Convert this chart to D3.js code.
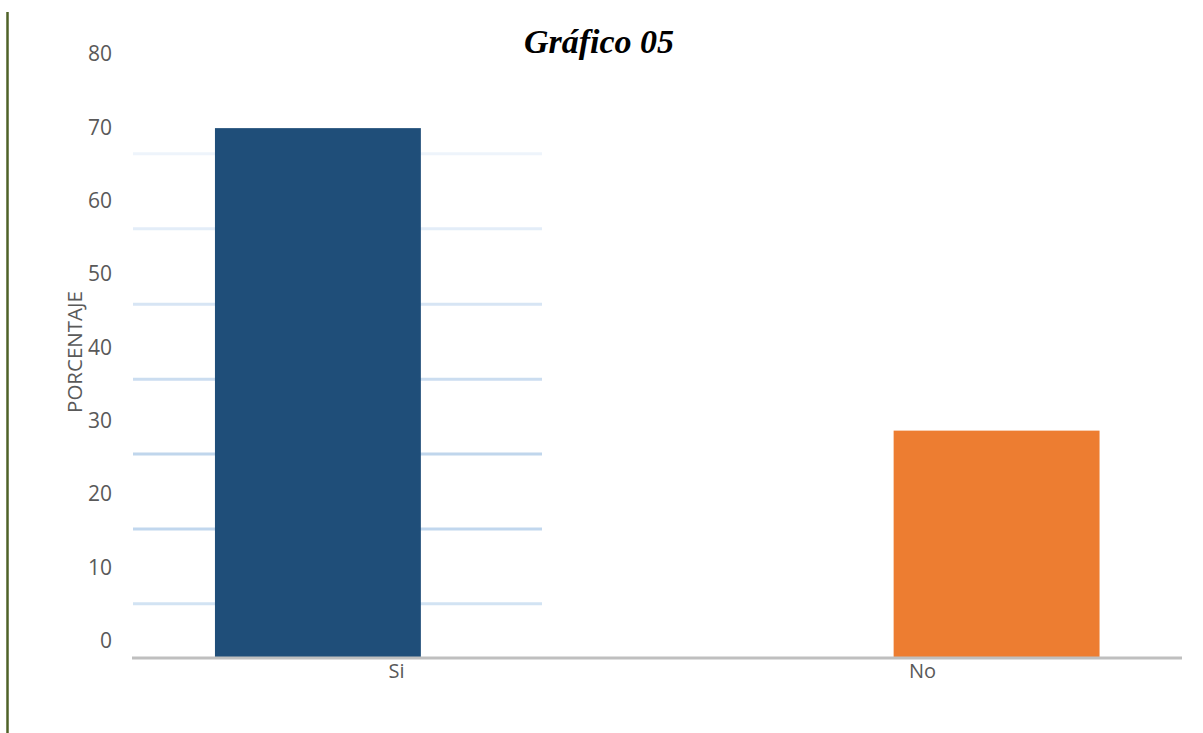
<!DOCTYPE html>
<html>
<head>
<meta charset="utf-8">
<script src="https://cdn.jsdelivr.net/npm/d3@7"></script>
<style>
  html, body { margin: 0; padding: 0; background: #ffffff; }
  svg { display: block; }
</style>
</head>
<body>
<svg id="chart" width="1203" height="733"></svg>
<script>
// ---- data ----
const categories = ["Si", "No"];
const values = [70, 30];
const barColors = ["#1f4e79", "#ed7d31"];
const yTicks = [0, 10, 20, 30, 40, 50, 60, 70, 80];
const gridValues = [7.1, 17.0, 26.9, 36.8, 46.7, 56.7, 66.6];
const gridColors = ["#d2e3f3", "#c1d7ee", "#c0d6ec", "#cbddf0", "#d7e5f4", "#e3edf8", "#eef4fb"];
const titleText = "Gráfico 05";
const yTitle = "PORCENTAJE";

// ---- layout ----
const svg = d3.select("#chart");
const W = 1203, H = 733;

const y = d3.scaleLinear().domain([0, 80]).range([657.5, 52.5]);
const yLabel = d3.scaleLinear().domain([0, 80]).range([641, 54]);

const x = d3.scaleBand().domain(categories)
  .range([132.5, 1182]).paddingInner(0.6966).paddingOuter(0.1215);
const xLabel = d3.scalePoint().domain(categories).range([396, 922]);

// left decorative border line
svg.append("line")
  .attr("x1", 7.5).attr("x2", 7.5).attr("y1", 12).attr("y2", H)
  .attr("stroke", "#4f6228").attr("stroke-width", 2.5);

// gridlines (partial width, as in reference)
svg.append("g").selectAll("line").data(gridValues).join("line")
  .attr("x1", 133).attr("x2", 542)
  .attr("y1", d => y(d)).attr("y2", d => y(d))
  .attr("stroke", (d, i) => gridColors[i]).attr("stroke-width", 3);

// bars
svg.append("g").selectAll("rect").data(values).join("rect")
  .attr("x", (d, i) => x(categories[i]))
  .attr("width", x.bandwidth())
  .attr("y", d => y(d))
  .attr("height", d => y(0) - y(d))
  .attr("fill", (d, i) => barColors[i]);

// x axis line
svg.append("line")
  .attr("x1", 132).attr("x2", 1182)
  .attr("y1", y(0) + 0.5).attr("y2", y(0) + 0.5)
  .attr("stroke", "#bfbfbf").attr("stroke-width", 3);

// y tick labels
const yAxis = svg.append("g").attr("transform", "translate(112,0)")
  .call(d3.axisLeft(yLabel).tickValues(yTicks).tickSize(0).tickPadding(0));
yAxis.select(".domain").remove();
yAxis.selectAll("text")
  .attr("font-family", "'Open Sans', sans-serif")
  .attr("font-size", 21)
  .attr("fill", "#595959");

// x labels
const xAxis = svg.append("g").attr("transform", "translate(0,664)")
  .call(d3.axisBottom(xLabel).tickSize(0).tickPadding(0));
xAxis.select(".domain").remove();
xAxis.selectAll("text")
  .attr("font-family", "'Open Sans', sans-serif")
  .attr("font-size", 20)
  .attr("fill", "#595959");

// y axis title
svg.append("text")
  .attr("transform", "translate(82,352) rotate(-90)")
  .attr("text-anchor", "middle")
  .attr("font-family", "'Open Sans', sans-serif")
  .attr("font-size", 20.5)
  .attr("fill", "#595959")
  .text(yTitle);

// title
svg.append("text")
  .attr("x", 599).attr("y", 53)
  .attr("text-anchor", "middle")
  .attr("font-family", "'Liberation Serif', 'Times New Roman', serif")
  .attr("font-weight", "bold").attr("font-style", "italic")
  .attr("font-size", 34)
  .attr("fill", "#000000")
  .text(titleText);
</script>
</body>
</html>
